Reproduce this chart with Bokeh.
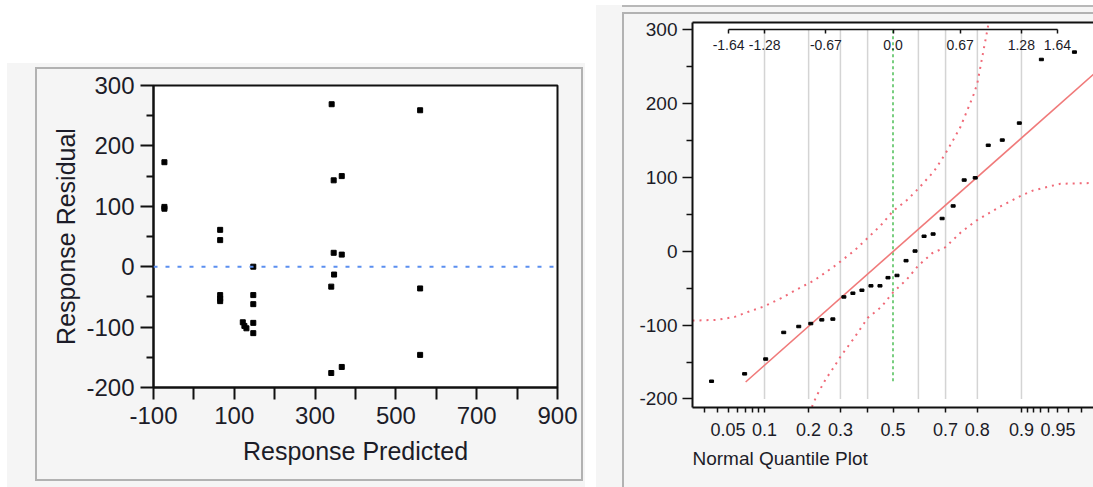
from statistics import NormalDist
from bokeh.plotting import figure
from bokeh.models import FixedTicker, LinearAxis, Span, Spacer, Range1d, Title
from bokeh.layouts import row, column
from bokeh.embed import file_html
from bokeh.resources import INLINE

FONT = "Liberation Sans"
TXT = "#1c1c28"
PANEL = "#f5f5f5"
EDGE = "2px solid #b2b2b2"

# ---------------- data ----------------
predicted = [-73, -73, -73, 65, 65, 65, 65, 65, 147, 147, 147, 147, 147, 121, 125, 130,
             341, 346, 346, 347, 340, 340, 366, 366, 366, 560, 560, 560]
residual = [173, 99, 96, 61, 44, -47, -53, -57, 0, -47, -62, -93, -110, -92, -98, -102,
            269, 143, 23, -13, -33, -176, 150, 20, -166, 259, -36, -146]

# normal quantiles of the ordered residuals
qq_z = [-1.81, -1.48, -1.27, -1.09, -0.94, -0.82, -0.71, -0.60, -0.49, -0.40, -0.31, -0.22,
        -0.13, -0.05, 0.04, 0.13, 0.22, 0.31, 0.40, 0.49, 0.60, 0.71, 0.82, 0.95, 1.09, 1.26,
        1.48, 1.81]

fit_z = [-1.47, 2.0]
fit_y = [-177, 239]

upper_z = [-2.0, -1.75, -1.58, -1.42, -1.29, -1.12, -0.92, -0.79, -0.59, -0.39, -0.25, -0.12,
           0.0, 0.14, 0.25, 0.41, 0.52, 0.60, 0.67, 0.74, 0.80, 0.84, 0.89, 0.94, 0.97]
upper_y = [-94, -93, -89, -81, -75, -64, -49, -40, -21, 0, 18, 35,
           54, 69, 84, 108, 131, 150, 167, 190, 210, 226, 262, 298, 322]

lower_z = [-0.97, -0.94, -0.89, -0.84, -0.80, -0.74, -0.67, -0.59, -0.52, -0.39, -0.25, -0.12,
           0.0, 0.14, 0.25, 0.39, 0.52, 0.675, 0.83, 1.08, 1.28, 1.40, 1.67, 2.0]
lower_y = [-322, -298, -262, -226, -207, -190, -173, -157, -142, -118, -90, -76,
           -56, -38, -20, -3, 5, 25, 41, 61, 75, 82, 91, 92]

x_ticks = [-100, 0, 100, 200, 300, 400, 500, 600, 700, 800, 900]
x_tick_labels = ["-100", "", "100", "", "300", "", "500", "", "700", "", "900"]
y_ticks = [-200, -100, 0, 100, 200, 300]
y_tick_labels = ["-200", "-100", "0", "100", "200", "300"]
y_minor = [-150, -50, 50, 150, 250]

prob_ticks = [0.03, 0.04, 0.05, 0.06, 0.07, 0.08, 0.09, 0.1, 0.2, 0.3, 0.4, 0.5, 0.6, 0.7,
              0.8, 0.9, 0.91, 0.92, 0.93, 0.94, 0.95, 0.96, 0.97]
prob_labels = {0.05: "0.05", 0.1: "0.1", 0.2: "0.2", 0.3: "0.3", 0.5: "0.5",
               0.7: "0.7", 0.8: "0.8", 0.9: "0.9", 0.95: "0.95"}
grid_probs = [0.1, 0.2, 0.3, 0.4, 0.6, 0.7, 0.8, 0.9]
quantile_ticks = [-1.64, -1.28, -0.67, 0.0, 0.67, 1.28, 1.64]
quantile_labels = ["-1.64", "-1.28", "-0.67", "0.0", "0.67", "1.28", "1.64"]

nd = NormalDist()

# ---------------- left: residual by predicted ----------------
p1 = figure(width=544, height=410, x_range=Range1d(-100, 900), y_range=Range1d(-200, 300),
            output_backend="svg", toolbar_location=None,
            min_border_left=116, min_border_right=24, min_border_top=16, min_border_bottom=92,
            background_fill_color="white", border_fill_color=PANEL)
p1.grid.visible = False
p1.outline_line_color = "#111111"
p1.outline_line_width = 2

p1.xaxis.ticker = FixedTicker(ticks=x_ticks, minor_ticks=[])
p1.xaxis.major_label_overrides = dict(zip(x_ticks, x_tick_labels))
p1.xaxis.major_tick_out = 12
p1.xaxis.major_tick_in = 0
p1.xaxis.major_label_standoff = 7
p1.xaxis.axis_label = "Response Predicted"
p1.xaxis.axis_label_standoff = 10

p1.yaxis.ticker = FixedTicker(ticks=y_ticks, minor_ticks=y_minor)
p1.yaxis.major_label_overrides = dict(zip(y_ticks, y_tick_labels))
p1.yaxis.major_tick_out = 13
p1.yaxis.major_tick_in = 0
p1.yaxis.minor_tick_out = 7
p1.yaxis.minor_tick_in = 0
p1.yaxis.major_label_standoff = 6
p1.yaxis.axis_label = "Response Residual"
p1.yaxis.axis_label_standoff = 3

for ax in (p1.xaxis, p1.yaxis):
    ax.axis_line_width = 2
    ax.axis_line_color = "#111111"
    ax.major_tick_line_width = 2
    ax.minor_tick_line_width = 2
    ax.major_tick_line_color = "#111111"
    ax.minor_tick_line_color = "#111111"
    ax.major_label_text_font = FONT
    ax.major_label_text_font_size = "24px"
    ax.major_label_text_color = TXT
    ax.axis_label_text_font = FONT
    ax.axis_label_text_font_size = "25px"
    ax.axis_label_text_font_style = "normal"
    ax.axis_label_text_color = TXT

p1.add_layout(Span(location=0, dimension="width", line_color="#5b8ff0",
                   line_dash="4 8", line_width=2))
p1.scatter(predicted, residual, marker="square", size=5, color="black")

# ---------------- right: normal quantile plot ----------------
p2 = figure(width=469, height=473, x_range=Range1d(-2.0, 2.0), y_range=Range1d(-211.5, 309.0),
            output_backend="svg", toolbar_location=None,
            min_border_left=68, min_border_right=0, min_border_top=8, min_border_bottom=80,
            background_fill_color="white", border_fill_color=PANEL)
p2.grid.visible = False
p2.outline_line_color = None

prob_z = [nd.inv_cdf(p) for p in prob_ticks]
p2.xaxis.ticker = FixedTicker(ticks=prob_z, minor_ticks=[])
p2.xaxis.major_label_overrides = {z: prob_labels.get(p, "") for z, p in zip(prob_z, prob_ticks)}
p2.xaxis.major_tick_out = 5
p2.xaxis.major_tick_in = 0
p2.xaxis.major_label_standoff = 10
p2.xaxis.major_label_text_font_size = "18px"

p2.yaxis.ticker = FixedTicker(ticks=y_ticks, minor_ticks=y_minor)
p2.yaxis.major_label_overrides = dict(zip(y_ticks, y_tick_labels))
p2.yaxis.major_tick_out = 10
p2.yaxis.major_tick_in = 0
p2.yaxis.minor_tick_out = 6
p2.yaxis.minor_tick_in = 0
p2.yaxis.major_label_standoff = 5
p2.yaxis.major_label_text_font_size = "19px"

for ax in (p2.xaxis, p2.yaxis):
    ax.axis_line_width = 2
    ax.axis_line_color = "#111111"
    ax.major_tick_line_color = "#111111"
    ax.minor_tick_line_color = "#111111"
    ax.major_tick_line_width = 1.5
    ax.minor_tick_line_width = 1.5
    ax.major_label_text_font = FONT
    ax.major_label_text_color = TXT

# empty axis used only as vertical spacing between the tick labels and the title
gap_axis = LinearAxis(ticker=FixedTicker(ticks=[]), axis_line_color=None, major_tick_out=9,
                      major_tick_in=0, major_label_standoff=0, major_label_text_font_size="0px")
p2.add_layout(gap_axis, "below")

p2.add_layout(Title(text="Normal Quantile Plot", align="left", text_font=FONT,
                    text_font_size="19px", text_font_style="normal", text_color=TXT,
                    standoff=14), "below")

top_line = LinearAxis(ticker=FixedTicker(ticks=[]), axis_line_width=2, axis_line_color="#111111",
                      major_label_text_font_size="0px")
p2.add_layout(top_line, "above")

q_axis = LinearAxis(fixed_location=y_ticks[-1], ticker=FixedTicker(ticks=quantile_ticks, minor_ticks=[]),
                    bounds=(quantile_ticks[0], quantile_ticks[-1]),
                    major_label_overrides=dict(zip(quantile_ticks, quantile_labels)),
                    major_tick_out=4, major_tick_in=0, major_label_standoff=7,
                    axis_line_color="#111111", axis_line_width=1.5,
                    major_tick_line_color="#111111", major_tick_line_width=1.5,
                    major_label_text_font=FONT, major_label_text_font_size="14px",
                    major_label_text_color=TXT)
p2.add_layout(q_axis, "below")

grid_z = [nd.inv_cdf(p) for p in grid_probs]
p2.segment(x0=grid_z, y0=[y_ticks[0]] * len(grid_z), x1=grid_z, y1=[y_ticks[-1]] * len(grid_z),
           line_color="#d4d4d4", line_width=1.5)
p2.segment(x0=[0.0], y0=[min(residual)], x1=[0.0], y1=[y_ticks[-1]],
           line_color="#1fae2a", line_dash="3 3", line_width=1.2)

p2.line(upper_z, upper_y, line_color="#f06a78", line_dash="2 5", line_width=2)
p2.line(lower_z, lower_y, line_color="#f06a78", line_dash="2 5", line_width=2)
p2.line(fit_z, fit_y, line_color="#f07a7a", line_width=1.6)

p2.rect(x=qq_z, y=sorted(residual), width=4, height=2.5, width_units="screen",
        height_units="screen", color="black")

# ---------------- page layout (panels with framed borders) ----------------
left_box = column(p1, styles={"border": EDGE})
left_gray = column(Spacer(width=578, height=4),
                   row(Spacer(width=28, height=10), left_box, Spacer(width=2, height=10)),
                   Spacer(width=578, height=6),
                   styles={"background-color": PANEL})
left_block = column(Spacer(width=578, height=63), left_gray)

right_box = column(p2, styles={"border-left": EDGE, "border-top": EDGE})
right_inner = column(Spacer(width=471, height=5), right_box,
                     styles={"border-top": "2px solid #b8b8b8"})
right_gray = row(Spacer(width=26, height=10), right_inner,
                 styles={"background-color": PANEL})
right_block = column(Spacer(width=497, height=5), right_gray)

layout = row(Spacer(width=7, height=10), left_block, Spacer(width=11, height=10), right_block)

open("out.html", "w").write(file_html(layout, INLINE))
